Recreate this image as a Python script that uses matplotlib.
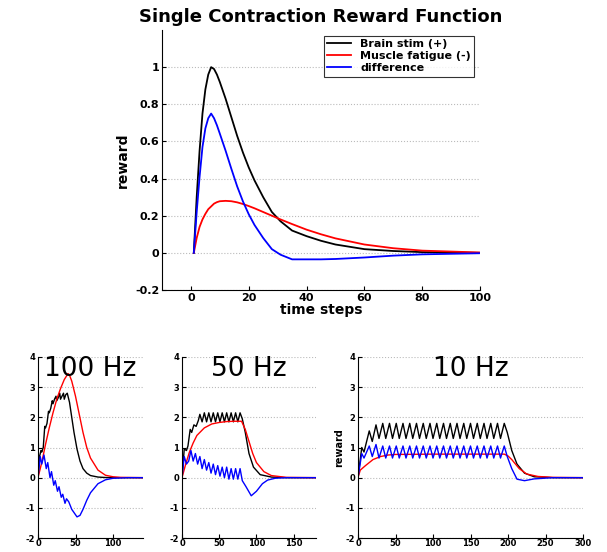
import matplotlib
matplotlib.use("Agg")
import matplotlib.pyplot as plt
import numpy as np
plt.rcParams['axes.unicode_minus'] = False

# ---- top panel data ----
top_t = [1,2,3,4,5,6,7,8,9,10,12,14,16,18,20,22,25,28,31,35,40,45,50,60,70,80,100]
top_stim = [0,0.3,0.55,0.75,0.88,0.96,1.0,0.99,0.96,0.92,0.83,0.73,0.63,0.54,0.46,0.39,0.30,0.22,0.17,0.12,0.09,0.065,0.045,0.02,0.01,0.004,0]
top_fat = [0,0.08,0.14,0.18,0.21,0.235,0.25,0.265,0.273,0.278,0.28,0.278,0.272,0.263,0.252,0.24,0.22,0.2,0.18,0.155,0.125,0.1,0.078,0.045,0.025,0.012,0.002]
top_diff = list(np.array(top_stim) - np.array(top_fat))

# ---- 100 Hz ----
b100_t = [0,2,4,5,7,9,10,12,14,15,17,19,20,22,24,25,27,29,30,32,34,35,37,39,40,42,45,48,52,56,60,65,70,80,90,100,140]
b100 = [0,0.7,0.9,0.85,1.0,1.7,1.65,1.8,2.2,2.15,2.3,2.55,2.45,2.6,2.7,2.55,2.65,2.8,2.6,2.7,2.8,2.6,2.75,2.8,2.7,2.5,2.0,1.5,0.95,0.55,0.3,0.15,0.07,0.02,0.005,0,0]
r100_t = [0,5,10,15,20,25,30,35,40,42,45,50,55,60,65,70,80,90,100,110,140]
r100 = [0,0.5,1.1,1.65,2.15,2.6,2.95,3.25,3.45,3.4,3.2,2.7,2.1,1.5,1.0,0.65,0.25,0.08,0.03,0.01,0]
d100_t = [0,3,5,8,11,13,16,18,21,23,26,28,31,33,36,38,41,45,52,56,60,65,70,80,90,100,120,140]
d100 = [0,0.7,0.45,0.75,0.3,0.5,0.0,0.2,-0.25,-0.1,-0.45,-0.3,-0.65,-0.55,-0.85,-0.7,-0.8,-1.05,-1.3,-1.25,-1.05,-0.75,-0.5,-0.2,-0.07,-0.02,0,0]

# ---- 50 Hz ----
b50_t = [0,3,6,8,11,13,16,19,22,24,27,30,33,36,39,42,45,48,51,54,57,60,63,66,69,72,75,78,81,85,90,96,105,120,140,180]
b50 = [0,0.95,0.9,1.05,1.6,1.5,1.75,1.7,1.9,2.1,1.85,2.15,1.85,2.15,1.85,2.15,1.85,2.15,1.85,2.15,1.85,2.15,1.85,2.15,1.85,2.15,1.85,2.15,1.95,1.5,0.8,0.35,0.1,0.02,0,0]
r50_t = [0,5,10,15,20,30,40,50,60,70,80,85,90,95,100,110,120,140,180]
r50 = [0,0.45,0.85,1.15,1.4,1.65,1.78,1.83,1.86,1.87,1.87,1.6,1.2,0.8,0.5,0.2,0.07,0.01,0]
d50_t = [0,3,6,9,12,15,18,21,24,27,30,33,36,39,42,45,48,51,54,57,60,63,66,69,72,75,78,81,86,93,100,108,115,125,140,180]
d50 = [0,0.7,0.45,0.55,0.9,0.55,0.8,0.45,0.7,0.3,0.6,0.25,0.5,0.15,0.45,0.1,0.4,0.05,0.35,0.0,0.35,-0.05,0.3,-0.05,0.3,-0.05,0.3,-0.1,-0.3,-0.6,-0.45,-0.2,-0.08,-0.02,0,0]

# ---- 10 Hz ----
t10 = [0,5,8,15,19,24,28,33,37,42,46,51,55,60,64,69,73,78,82,87,91,96,100,105,109,114,118,123,127,132,136,141,145,150,154,159,163,168,172,177,181,186,190,195,199,205,212,222,235,260,300]
b10 = [0,1.0,0.85,1.55,1.2,1.75,1.3,
       1.8,1.3,1.8,1.3,1.8,1.3,1.8,1.3,1.8,1.3,1.8,1.3,1.8,1.3,1.8,1.3,1.8,1.3,
       1.8,1.3,1.8,1.3,1.8,1.3,1.8,1.3,1.8,1.3,1.8,1.3,1.8,1.3,1.8,1.3,1.8,1.3,
       1.8,1.5,0.9,0.45,0.15,0.03,0,0]
d10 = [0,0.8,0.65,1.05,0.7,1.1,0.65,
       1.05,0.65,1.05,0.65,1.05,0.65,1.05,0.65,1.05,0.65,1.05,0.65,1.05,0.65,1.05,0.65,1.05,0.65,
       1.05,0.65,1.05,0.65,1.05,0.65,1.05,0.65,1.05,0.65,1.05,0.65,1.05,0.65,1.05,0.65,1.05,0.65,
       1.05,0.7,0.3,-0.05,-0.1,-0.04,0,0]
r10_t = [0,3,10,15,20,25,30,40,50,100,150,195,200,205,215,225,240,260,300]
r10 = [0,0.25,0.4,0.5,0.6,0.65,0.7,0.75,0.77,0.78,0.78,0.78,0.72,0.6,0.3,0.12,0.04,0.01,0]

W, H = 607, 552
fig = plt.figure(figsize=(W/100, H/100), dpi=100)

def style(ax, fs):
    for s in ['top', 'right']:
        ax.spines[s].set_visible(False)
    ax.tick_params(direction='in', labelsize=fs, length=3, pad=2)
    for lab in ax.get_xticklabels() + ax.get_yticklabels():
        lab.set_fontweight('bold')
    ax.yaxis.grid(True, linestyle=':', color='#bbbbbb', linewidth=0.8)
    ax.set_axisbelow(True)

ax = fig.add_axes([162/W, 1-290/H, (480-162)/W, (290-30)/H])
ax.plot(top_t, top_stim, color='black', lw=1.3, label='Brain stim (+)')
ax.plot(top_t, top_fat, color='red', lw=1.3, label='Muscle fatigue (-)')
ax.plot(top_t, top_diff, color='blue', lw=1.3, label='difference')
ax.set_xlim(-10, 100)
ax.set_ylim(-0.2, 1.2)
ax.set_xticks([0, 20, 40, 60, 80, 100])
ax.set_yticks([-0.2, 0, 0.2, 0.4, 0.6, 0.8, 1])
ax.set_yticklabels(['-0.2', '0', '0.2', '0.4', '0.6', '0.8', '1'])
style(ax, 8)
ax.set_xlabel('time steps', fontsize=10, fontweight='bold', labelpad=0)
ax.set_ylabel('reward', fontsize=10, fontweight='bold')
ax.set_title('Single Contraction Reward Function', fontsize=13, fontweight='bold', pad=6)
leg = ax.legend(loc='upper right', bbox_to_anchor=(1.0, 1.0), prop={'weight': 'bold', 'size': 8},
                fancybox=False, edgecolor='black', handlelength=2.2, borderpad=0.3, labelspacing=0.2)
leg.get_frame().set_linewidth(0.8)

panels = [
    (38, 143, 140, [0, 50, 100], '100 Hz', (b100_t, b100), (r100_t, r100), (d100_t, d100), False),
    (182, 316, 180, [0, 50, 100, 150], '50 Hz', (b50_t, b50), (r50_t, r50), (d50_t, d50), False),
    (358, 583, 300, [0, 50, 100, 150, 200, 250, 300], '10 Hz', (t10, b10), (r10_t, r10), (t10, d10), True),
]
for (x0, x1, xmax, xt, title, bk, rd, bl, ylab) in panels:
    a = fig.add_axes([x0/W, 1-538/H, (x1-x0)/W, (538-357)/H])
    a.plot(*bk, color='black', lw=1.0)
    a.plot(*rd, color='red', lw=1.0)
    a.plot(*bl, color='blue', lw=1.0)
    a.set_xlim(0, xmax)
    a.set_ylim(-2, 4)
    a.set_xticks(xt)
    a.set_yticks([-2, -1, 0, 1, 2, 3, 4])
    style(a, 6)
    a.tick_params(axis='x', pad=1)
    a.set_title(title, fontsize=19, pad=-14, y=1.0)
    if ylab:
        a.set_ylabel('reward', fontsize=7, fontweight='bold', labelpad=1)

fig.savefig('out.png', dpi=100)
